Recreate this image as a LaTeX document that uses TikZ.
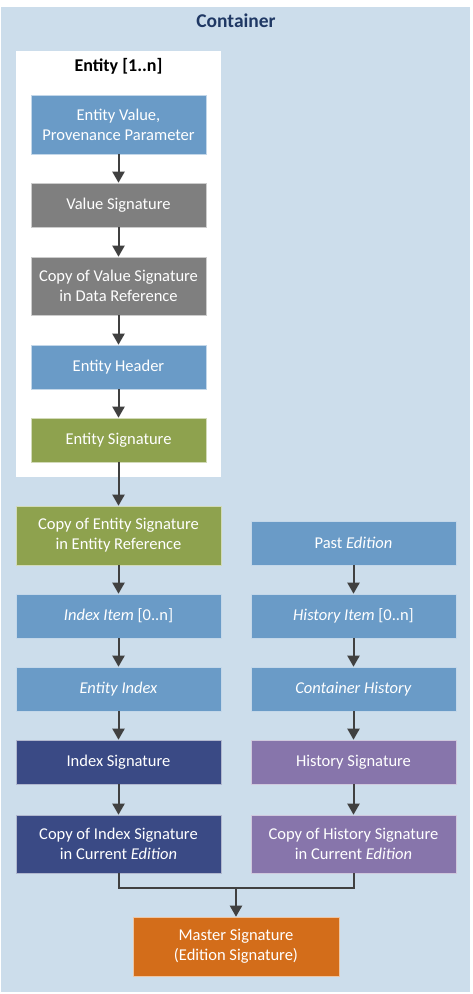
\documentclass[tikz,border=0pt]{standalone}
\usepackage{fontspec}
\setmainfont{Carlito}
\usetikzlibrary{arrows.meta}
\definecolor{bgc}{HTML}{CCDDEB}
\definecolor{bluec}{HTML}{6A9BC7}
\definecolor{grayc}{HTML}{7F7F7F}
\definecolor{greenc}{HTML}{8EA24E}
\definecolor{navyc}{HTML}{3A4A85}
\definecolor{purplec}{HTML}{8775AB}
\definecolor{orangec}{HTML}{D36D1A}
\definecolor{titlec}{HTML}{1F3864}
\definecolor{arrc}{HTML}{404040}
\tikzset{
  box/.style={draw=white!60!#1, line width=0.6pt, fill=#1, text=white, align=center,
    inner sep=0pt, font=\fontsize{16.5}{20}\selectfont},
  arr/.style={draw=arrc, line width=2pt, -{Triangle[width=12pt,length=11pt]}},
  lin/.style={draw=arrc, line width=2pt},
}
\newcommand{\bx}[7]{% name, color, x1, y1, x2, y2, text
  \node[box=#2, minimum width={#5-#3}, minimum height={#6-#4}] (#1) at ({(#3+#5)/2},{(#4+#6)/2}) {#7};}
\begin{document}
\begin{tikzpicture}[x=1pt,y=-1pt]
\useasboundingbox (0,0) rectangle (472,994);
\fill[white] (0,0) rectangle (472,994);
\fill[bgc] (1,7) rectangle (470,992);
\node[font=\fontsize{19.5}{22}\selectfont\bfseries, text=titlec] (ctitle) at (236,21) {Container};
\fill[white] (16,51) rectangle (221,477);
\node[font=\fontsize{18}{21}\selectfont\bfseries, text=black] (etitle) at (118.5,66) {Entity [1..n]};
\bx{ev}{bluec}{31}{95}{206}{154}{Entity Value,\\Provenance Parameter}
\bx{vs}{grayc}{31}{183}{206}{227}{Value Signature}
\bx{cvs}{grayc}{31}{257}{206}{315}{Copy of Value Signature\\in Data Reference}
\bx{eh}{bluec}{31}{345}{206}{389}{Entity Header}
\bx{es}{greenc}{31}{418}{206}{462}{Entity Signature}
\bx{ces}{greenc}{16}{506}{221}{565}{Copy of Entity Signature\\in Entity Reference}
\bx{ii}{bluec}{16}{594}{221}{638}{\textit{Index Item} [0..n]}
\bx{ei}{bluec}{16}{667}{221}{711}{\textit{Entity Index}}
\bx{is}{navyc}{16}{740}{221}{784}{Index Signature}
\bx{cis}{navyc}{16}{815}{221}{873}{Copy of Index Signature\\in Current \textit{Edition}}
\bx{pe}{bluec}{251}{521}{456}{565}{Past \textit{Edition}}
\bx{hi}{bluec}{251}{594}{456}{638}{\textit{History Item} [0..n]}
\bx{ch}{bluec}{251}{667}{456}{711}{\textit{Container History}}
\bx{hs}{purplec}{251}{740}{456}{784}{History Signature}
\bx{chs}{purplec}{251}{815}{456}{873}{Copy of History Signature\\in Current \textit{Edition}}
\bx{ms}{orangec}{133}{917}{339}{976}{Master Signature\\(Edition Signature)}
\draw[arr] (ev) -- (vs);
\draw[arr] (vs) -- (cvs);
\draw[arr] (cvs) -- (eh);
\draw[arr] (eh) -- (es);
\draw[arr] (es) -- (ces);
\draw[arr] (ces) -- (ii);
\draw[arr] (ii) -- (ei);
\draw[arr] (ei) -- (is);
\draw[arr] (is) -- (cis);
\draw[arr] (pe) -- (hi);
\draw[arr] (hi) -- (ch);
\draw[arr] (ch) -- (hs);
\draw[arr] (hs) -- (chs);
\coordinate (jn) at (236,888);
\draw[lin] (cis.south) |- (jn) -| (chs.south);
\draw[arr] (jn) -- (ms);
\end{tikzpicture}
\end{document}
